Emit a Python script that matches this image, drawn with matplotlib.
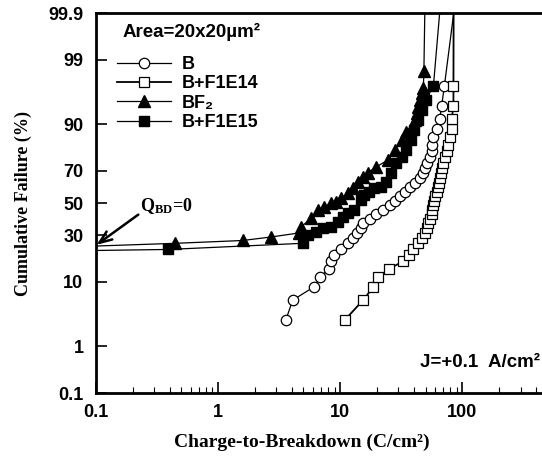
import numpy as np
import matplotlib
matplotlib.use("Agg")
import matplotlib.pyplot as plt
from statistics import NormalDist

# ---- data (Q_BD in C/cm^2, cumulative failure in %) ----
b_q = [3.60, 4.08, 6.08, 6.89, 8.07, 8.43, 8.98, 10.2, 11.6, 12.7, 13.8, 14.7,
       15.4, 17.4, 19.8, 22.4, 25.5, 28.0, 30.8, 33.8, 37.2, 40.9, 45.0, 48.0,
       49.6, 51.0, 54.3, 56.1, 56.5, 58.0, 61.6, 65.3, 67.8, 71.3, 93.5]
b_f = [2.9, 5.7, 8.6, 11.4, 14.3, 17.1, 20.0, 22.9, 25.7, 28.6, 31.4, 34.3,
       37.1, 40.0, 42.9, 45.7, 48.6, 51.4, 54.3, 57.1, 60.0, 62.9, 65.7, 68.6,
       71.4, 74.3, 77.1, 80.0, 82.9, 85.7, 88.6, 91.4, 94.3, 97.1, 99.99]

bf14_q = [11.0, 15.4, 18.7, 20.6, 25.3, 32.8, 36.3, 39.6, 43.6, 46.4, 49.4, 51.0,
          52.7, 54.3, 56.1, 56.6, 57.1, 58.2, 59.7, 61.7, 62.8, 64.1, 65.6, 66.5,
          67.8, 70.0, 72.1, 74.5, 76.9, 78.9, 82.0, 82.0, 84.7, 84.7, 85.1]
bf14_f = b_f

bf2_q = [0.1, 0.447, 1.59, 2.70, 4.60, 4.78, 5.77, 6.55, 7.43, 8.43, 9.27, 10.2,
         11.6, 12.7, 14.0, 15.4, 16.9, 19.8, 24.7, 28.0, 31.8, 34.9, 38.4, 40.9,
         42.3, 43.6, 45.0, 46.4, 48.0, 48.5, 49.9]
bf2_f = [24.2, 25.6, 27.1, 29.0, 31.3, 34.8, 40.2, 45.5, 47.6, 49.8, 50.8, 53.0,
         56.3, 59.4, 63.5, 66.6, 69.0, 72.2, 75.8, 80.6, 84.7, 87.7, 89.3, 91.1,
         92.8, 94.1, 95.3, 96.3, 96.9, 98.4, 99.99]

bf15_q = [0.1, 0.392, 4.93, 5.42, 6.34, 7.21, 8.43, 9.57, 10.5, 11.6, 13.1, 14.9,
          15.8, 17.3, 19.1, 21.7, 23.9, 26.3, 28.9, 31.8, 34.9, 37.7, 40.6, 43.0,
          46.4, 50.1, 58.0, 69.5]
bf15_f = [22.0, 22.5, 25.6, 30.1, 32.0, 34.0, 35.0, 38.1, 41.2, 43.4, 45.5, 52.0,
          55.2, 57.3, 59.4, 60.5, 63.5, 68.7, 74.2, 77.5, 80.6, 84.7, 88.2, 91.1,
          93.5, 95.3, 97.1, 99.99]

y_ticks = [0.1, 1, 10, 30, 50, 70, 90, 99, 99.9]
y_labels = ["0.1", "1", "10", "30", "50", "70", "90", "99", "99.9"]
x_ticks = [0.1, 1, 10, 100]
x_labels = ["0.1", "1", "10", "100"]

# normal probability scale for the y axis
nd = NormalDist()
_ppf = np.vectorize(nd.inv_cdf, otypes=[float])
_cdf = np.vectorize(nd.cdf, otypes=[float])


def to_z(p):
    p = np.clip(np.asarray(p, dtype=float) / 100.0, 1e-7, 1 - 1e-7)
    return _ppf(p)


def from_z(z):
    return 100.0 * _cdf(np.asarray(z, dtype=float))


plt.rcParams["mathtext.fontset"] = "custom"
plt.rcParams["mathtext.rm"] = "Liberation Serif:bold"
plt.rcParams["mathtext.bf"] = "Liberation Serif:bold"
plt.rcParams["mathtext.it"] = "Liberation Serif:bold"

sans = ["Liberation Sans", "DejaVu Sans"]
serif = ["Liberation Serif", "DejaVu Serif"]

fig = plt.figure(figsize=(5.42, 4.57), dpi=100)
ax = fig.add_axes([96 / 542, 1 - 393 / 457, 446 / 542, 380 / 457])
ax.set_xscale("log")
ax.set_yscale("function", functions=(to_z, from_z))

lw = 0.9
ax.plot(b_q, b_f, "-o", color="black", lw=lw, ms=7.5, mfc="white", mec="black",
        mew=0.9, label="B")
ax.plot(bf14_q, bf14_f, "-s", color="black", lw=1.3, ms=7, mfc="white", mec="black",
        mew=0.9, label="B+F1E14")
ax.plot(bf2_q, bf2_f, "-^", color="black", lw=lw, ms=8, mfc="black", mec="black",
        markevery=slice(1, None), label="BF\u2082")
ax.plot(bf15_q, bf15_f, "-s", color="black", lw=lw, ms=7, mfc="black", mec="black",
        markevery=slice(1, None), label="B+F1E15")

ax.set_xlim(0.1, 450)
ax.set_ylim(0.1, 99.9)
ax.set_xticks(x_ticks)
ax.set_xticklabels(x_labels)
ax.set_yticks(y_ticks)
ax.set_yticklabels(y_labels)
ax.yaxis.set_minor_locator(matplotlib.ticker.NullLocator())

for lab in ax.get_xticklabels() + ax.get_yticklabels():
    lab.set_fontfamily(sans)
    lab.set_fontweight("bold")
    lab.set_fontsize(13)

ax.tick_params(axis="y", which="major", direction="in", length=8, width=1.2,
               pad=9, right=False)
ax.tick_params(axis="x", which="major", direction="in", length=8, width=1.2,
               pad=8, top=False)
ax.tick_params(axis="x", which="minor", direction="in", length=4, width=0.8, top=False)
for side in ["left", "bottom", "top"]:
    ax.spines[side].set_linewidth(2)
ax.spines["right"].set_visible(False)

ax.set_xlabel("Charge-to-Breakdown (C/cm\u00b2)", fontfamily=serif, fontweight="bold",
              fontsize=14)
ax.xaxis.set_label_coords(0.462, -0.108)
ax.set_ylabel("Cumulative Failure (%)", fontfamily=serif, fontweight="bold",
              fontsize=13, labelpad=12)

ax.text(0.059, 0.95, "Area=20x20\u00b5m\u00b2", transform=ax.transAxes, ha="left",
        va="center", fontfamily=sans, fontweight="bold", fontsize=13.5)
ax.legend(loc="upper left", bbox_to_anchor=(0.03, 0.905), frameon=False,
          handlelength=3.0, handletextpad=0.6, labelspacing=0.12, borderaxespad=0,
          prop={"family": sans, "weight": "bold", "size": 13})

ax.text(0.23, 48, r"Q$_{\rm BD}$=0", fontfamily=serif, fontweight="bold",
        fontsize=13, ha="left", va="center")
ax.annotate("", xy=(0.101, 24.8), xytext=(0.222, 42.5),
            arrowprops=dict(arrowstyle="->,head_length=0.9,head_width=0.35",
                            color="black", lw=1.8, shrinkA=0, shrinkB=0))

ax.text(0.995, 0.08, "J=+0.1  A/cm\u00b2", transform=ax.transAxes, ha="right",
        va="center", fontfamily=sans, fontweight="bold", fontsize=13.5)

fig.savefig("out.png", dpi=100)
